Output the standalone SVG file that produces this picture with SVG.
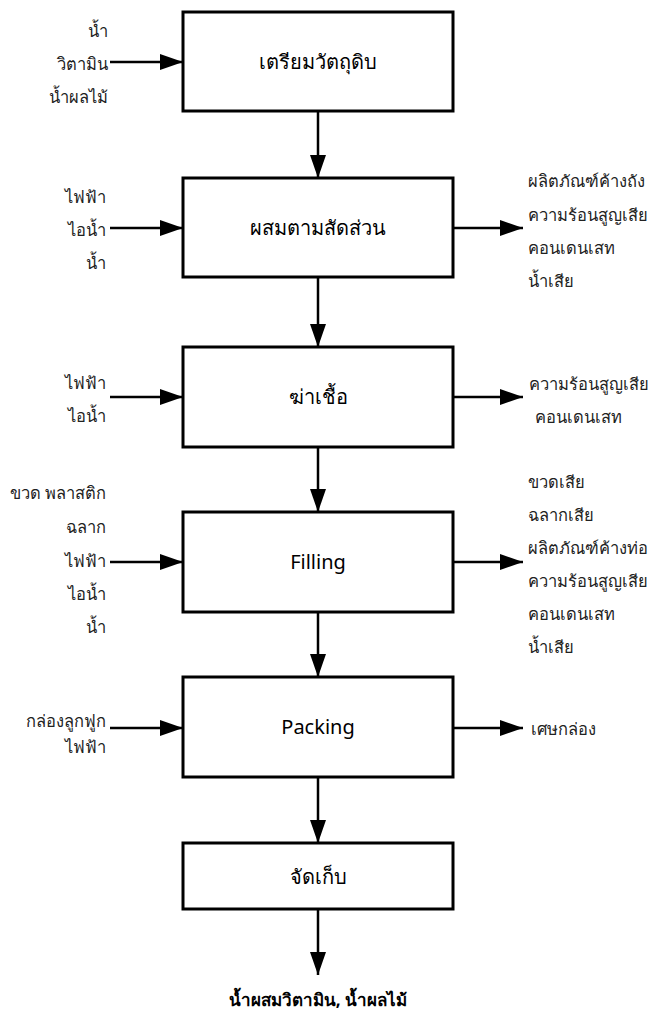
<svg xmlns="http://www.w3.org/2000/svg" width="654" height="1014" viewBox="0 0 654 1014">
  <defs>
    <marker id="arrow" markerUnits="userSpaceOnUse" markerWidth="24" markerHeight="18" refX="23" refY="8" orient="auto">
      <path d="M0,0 L23,8 L0,16 Z" fill="#000"/>
    </marker>
    <style>
      .box { fill: #fff; stroke: #000; stroke-width: 3; }
      .title { font-family: "Noto Sans", "Open Sans", sans-serif; font-size: 20px; fill: #000; text-anchor: middle; }
      .side { font-family: "Noto Sans", "DejaVu Sans", sans-serif; font-size: 16.5px; fill: #222; }
      .left { text-anchor: end; }
      .flow { fill: none; stroke: #000; stroke-width: 2.5; marker-end: url(#arrow); }
      .bold { font-weight: bold; }
    </style>
  </defs>

  <!-- connectors -->
  <g id="connectors">
    <!-- main line between steps -->
    <path class="flow" d="M318,111 V178"/>
    <path class="flow" d="M318,277 V347"/>
    <path class="flow" d="M318,447 V512"/>
    <path class="flow" d="M318,612 V677"/>
    <path class="flow" d="M318,777 V843"/>
    <path class="flow" d="M318,909 V975"/>
    <!-- inputs -->
    <path class="flow" d="M110,62 H183"/>
    <path class="flow" d="M110,228 H183"/>
    <path class="flow" d="M110,397 H183"/>
    <path class="flow" d="M110,562 H183"/>
    <path class="flow" d="M110,728 H183"/>
    <!-- outputs -->
    <path class="flow" d="M453,228 H523"/>
    <path class="flow" d="M453,397 H523"/>
    <path class="flow" d="M453,562 H523"/>
    <path class="flow" d="M453,728 H523"/>
  </g>

  <g id="prepare">
    <rect class="box" x="183" y="12" width="270" height="99"/>
    <text class="title" x="318" y="69">เตรียมวัตถุดิบ</text>
    <text class="side left" x="108" y="37">น้ำ</text>
    <text class="side left" x="108" y="70">วิตามิน</text>
    <text class="side left" x="108" y="103">น้ำผลไม้</text>
  </g>

  <g id="mix">
    <rect class="box" x="183" y="178" width="270" height="99"/>
    <text class="title" x="318" y="235">ผสมตามสัดส่วน</text>
    <text class="side left" x="106" y="203">ไฟฟ้า</text>
    <text class="side left" x="106" y="236">ไอน้ำ</text>
    <text class="side left" x="106" y="269">น้ำ</text>
    <text class="side" x="528" y="187">ผลิตภัณฑ์ค้างถัง</text>
    <text class="side" x="528" y="221">ความร้อนสูญเสีย</text>
    <text class="side" x="528" y="254">คอนเดนเสท</text>
    <text class="side" x="528" y="287">น้ำเสีย</text>
  </g>

  <g id="sterilize">
    <rect class="box" x="183" y="347" width="270" height="100"/>
    <text class="title" x="318" y="404">ฆ่าเชื้อ</text>
    <text class="side left" x="106" y="389">ไฟฟ้า</text>
    <text class="side left" x="106" y="422">ไอน้ำ</text>
    <text class="side" x="529" y="390">ความร้อนสูญเสีย</text>
    <text class="side" x="535" y="423">คอนเดนเสท</text>
  </g>

  <g id="filling">
    <rect class="box" x="183" y="512" width="270" height="100"/>
    <text class="title" x="318" y="569">Filling</text>
    <text class="side left" x="106" y="499">ขวด พลาสติก</text>
    <text class="side left" x="106" y="533">ฉลาก</text>
    <text class="side left" x="106" y="567">ไฟฟ้า</text>
    <text class="side left" x="106" y="600">ไอน้ำ</text>
    <text class="side left" x="106" y="633">น้ำ</text>
    <text class="side" x="528" y="488">ขวดเสีย</text>
    <text class="side" x="528" y="521">ฉลากเสีย</text>
    <text class="side" x="528" y="554">ผลิตภัณฑ์ค้างท่อ</text>
    <text class="side" x="528" y="587">ความร้อนสูญเสีย</text>
    <text class="side" x="528" y="620">คอนเดนเสท</text>
    <text class="side" x="528" y="653">น้ำเสีย</text>
  </g>

  <g id="packing">
    <rect class="box" x="183" y="677" width="270" height="100"/>
    <text class="title" x="318" y="734">Packing</text>
    <text class="side left" x="106" y="727">กล่องลูกฟูก</text>
    <text class="side left" x="106" y="753">ไฟฟ้า</text>
    <text class="side" x="531" y="735">เศษกล่อง</text>
  </g>

  <g id="storage">
    <rect class="box" x="183" y="843" width="270" height="66"/>
    <text class="title" x="318" y="884">จัดเก็บ</text>
  </g>

  <g id="product">
    <text class="title bold" x="318" y="1006" style="font-size:17px">น้ำผสมวิตามิน, น้ำผลไม้</text>
  </g>
</svg>
